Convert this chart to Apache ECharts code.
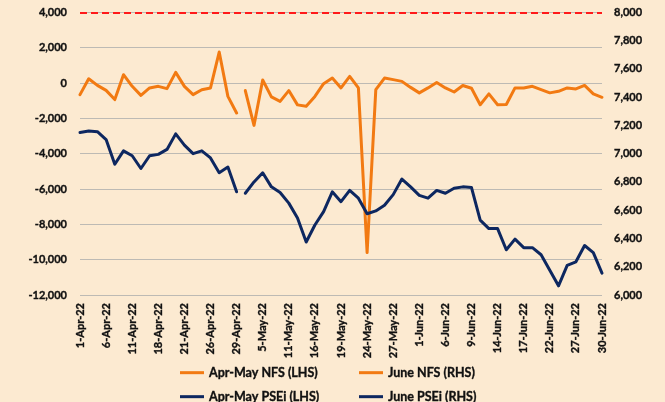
<!DOCTYPE html>
<html>
<head>
<meta charset="utf-8">
<title>NFS vs PSEi</title>
<script src="https://cdn.jsdelivr.net/npm/echarts@6/dist/echarts.min.js"></script>
<style>
  html, body { margin: 0; padding: 0; background: #ffffff; }
  #main { width: 665px; height: 402px; }
</style>
</head>
<body>
<div id="main"></div>
<script>
// trading days, 1-Apr-22 .. 30-Jun-22
var days = [
  '1-Apr-22','4-Apr-22','5-Apr-22','6-Apr-22','7-Apr-22','8-Apr-22','11-Apr-22','12-Apr-22','13-Apr-22',
  '18-Apr-22','19-Apr-22','20-Apr-22','21-Apr-22','22-Apr-22','25-Apr-22','26-Apr-22','27-Apr-22','28-Apr-22','29-Apr-22',
  '2-May-22','4-May-22','5-May-22','6-May-22','10-May-22','11-May-22','12-May-22','13-May-22','16-May-22','17-May-22',
  '18-May-22','19-May-22','20-May-22','23-May-22','24-May-22','25-May-22','26-May-22','27-May-22','30-May-22','31-May-22',
  '1-Jun-22','2-Jun-22','3-Jun-22','6-Jun-22','7-Jun-22','8-Jun-22','9-Jun-22','10-Jun-22','13-Jun-22','14-Jun-22',
  '15-Jun-22','16-Jun-22','17-Jun-22','20-Jun-22','21-Jun-22','22-Jun-22','23-Jun-22','24-Jun-22','27-Jun-22','28-Jun-22',
  '29-Jun-22','30-Jun-22'
];

// net foreign selling (left axis)
var nfsAprMay = [-660, 240, -135, -420, -940, 470, -190, -700, -280, -190, -320, 600, -190, -660, -380, -280, 1750, -760, -1700];
var nfsJune = [-430, -2400, 170, -790, -1040, -430, -1240, -1320, -760, -40, 280, -280, 370, -280, -9600, -380, 280, 190, 90,
  -250, -560, -280, 30, -280, -510, -140, -300, -1230, -620, -1230, -1220, -280, -280, -190, -380, -560, -470, -280, -340, -140, -620, -810];

// PSEi (right axis)
var pseiAprMay = [7150, 7160, 7155, 7100, 6925, 7020, 6985, 6895, 6985, 6995, 7030, 7140, 7060, 7000, 7020, 6970, 6865, 6905, 6730];
var pseiJune = [6720, 6800, 6865, 6765, 6725, 6650, 6545, 6375, 6495, 6590, 6730, 6660, 6740, 6685, 6575, 6595, 6635, 6710, 6820,
  6765, 6705, 6685, 6740, 6720, 6755, 6765, 6760, 6530, 6470, 6470, 6320, 6395, 6335, 6335, 6285, 6175, 6065, 6210, 6235, 6350, 6300, 6155];

var seriesNames = ['Apr-May NFS (LHS)', 'June NFS (RHS)', 'Apr-May PSEi (LHS)', 'June PSEi (RHS)'];
var refLine = 4000;

var orange = '#F27A12';
var navy = '#0D2760';
var fnt = 'Lato, "Noto Sans", sans-serif';
var txt = '#111111';

// pad a segment with nulls so it sits at the right place on the category axis
function place(values, start) {
  var out = [];
  for (var i = 0; i < days.length; i++) {
    var k = i - start;
    out.push(k >= 0 && k < values.length ? values[k] : null);
  }
  return out;
}

function fmt(v) {
  return echarts.format.addCommas(v);
}

// bold text, slightly thickened to look like the heavy source font
function boldText(size) {
  return {
    fontFamily: fnt,
    fontWeight: 'bold',
    fontSize: size,
    color: txt,
    textBorderColor: txt,
    textBorderWidth: 0.35
  };
}

function lineSeries(name, color, yIdx, data) {
  return {
    name: name,
    type: 'line',
    yAxisIndex: yIdx,
    data: data,
    showSymbol: false,
    symbol: 'none',
    connectNulls: false,
    lineStyle: { color: color, width: 3, cap: 'round', join: 'round' },
    itemStyle: { color: color }
  };
}

function oneLegend(name, color, left, top) {
  return {
    data: [name],
    left: left,
    top: top,
    icon: 'rect',
    itemWidth: 24,
    itemHeight: 3,
    itemStyle: { color: color },
    textStyle: boldText(12.5)
  };
}

var chart = echarts.init(document.getElementById('main'));

var option = {
  backgroundColor: '#FCEAD1',
  animation: false,
  grid: { left: 80, right: 63, top: 12.3, bottom: 107 },
  legend: [
    oneLegend(seriesNames[0], orange, 175, 361),
    oneLegend(seriesNames[1], orange, 354, 361),
    oneLegend(seriesNames[2], navy, 175, 385),
    oneLegend(seriesNames[3], navy, 354, 385)
  ],
  xAxis: {
    type: 'category',
    data: days,
    boundaryGap: false,
    axisLine: { show: false },
    axisTick: { show: false },
    axisLabel: Object.assign({ interval: 2, rotate: 90, margin: 8 }, boldText(11))
  },
  yAxis: [
    {
      type: 'value',
      min: -12000,
      max: 4000,
      interval: 2000,
      axisLine: { show: false },
      axisTick: { show: false },
      splitLine: { lineStyle: { color: '#BDBAB4', width: 1 } },
      axisLabel: Object.assign({ margin: 13, formatter: fmt }, boldText(11))
    },
    {
      type: 'value',
      min: 6000,
      max: 8000,
      interval: 200,
      axisLine: { show: false },
      axisTick: { show: false },
      splitLine: { show: false },
      axisLabel: Object.assign({ margin: 12, formatter: fmt }, boldText(11))
    }
  ],
  series: [
    lineSeries(seriesNames[0], orange, 0, place(nfsAprMay, 0)),
    lineSeries(seriesNames[1], orange, 0, place(nfsJune, nfsAprMay.length)),
    lineSeries(seriesNames[2], navy, 1, place(pseiAprMay, 0)),
    lineSeries(seriesNames[3], navy, 1, place(pseiJune, pseiAprMay.length)),
    {
      // red dashed reference line at the top
      name: 'ref',
      type: 'line',
      data: [],
      markLine: {
        silent: true,
        symbol: 'none',
        label: { show: false },
        lineStyle: { color: '#FF1A1A', type: [7, 4], width: 2 },
        data: [{ yAxis: refLine }]
      }
    }
  ]
};

chart.setOption(option);
</script>
</body>
</html>
